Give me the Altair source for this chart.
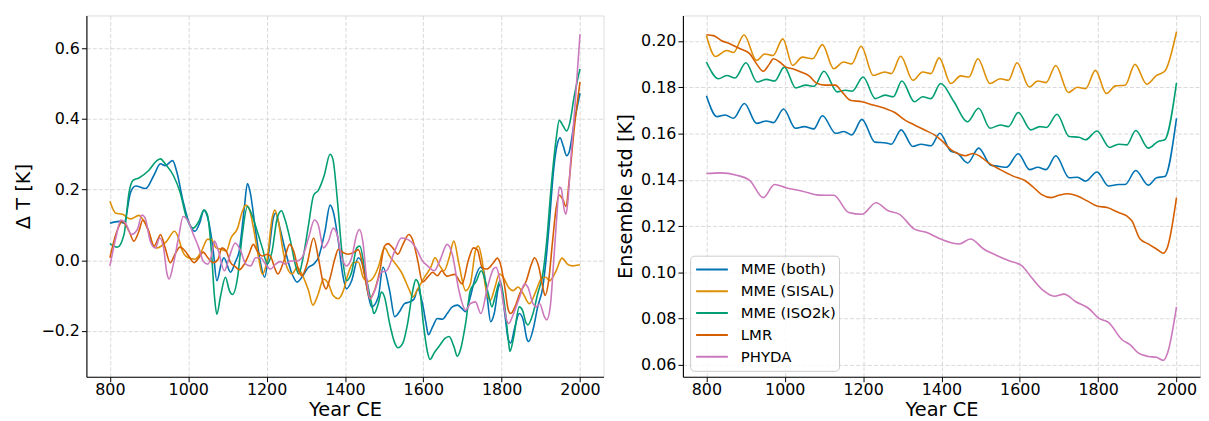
import altair as alt
import pandas as pd

SERIES = ["MME (both)", "MME (SISAL)", "MME (ISO2k)", "LMR", "PHYDA"]
COLORS = ["#0173b2", "#de8f05", "#029e73", "#d55e00", "#cc78bc"]
X_TICKS = [800, 1000, 1200, 1400, 1600, 1800, 2000]
DT_TICKS = [-0.2, 0.0, 0.2, 0.4, 0.6]
STD_TICKS = [0.06, 0.08, 0.10, 0.12, 0.14, 0.16, 0.18, 0.20]

# ---------- left panel: temperature anomaly (year, value) ----------
both_dT = [(800,0.105),(824,0.11),(836,0.105),(853,0.193),(866,0.21),(891,0.203),(912,0.24),(929,0.273),(941,0.268),(960,0.282),
           (971,0.249),(987,0.166),(1004,0.10),(1017,0.082),(1029,0.105),(1040,0.142),(1050,0.119),(1063,0.035),(1073,-0.058),(1084,-0.011),
           (1091,0.007),(1108,-0.034),(1120,-0.005),(1130,0.026),(1143,0.147),(1151,0.217),(1158,0.193),(1172,0.082),(1185,-0.011),(1195,-0.048),
           (1206,0.026),(1217,0.119),(1223,0.133),(1234,0.091),(1248,0.026),(1265,-0.039),(1278,-0.062),(1290,-0.048),(1307,-0.02),(1320,-0.011),
           (1332,0.007),(1349,0.082),(1362,0.156),(1370,0.138),(1383,0.054),(1394,-0.039),(1404,-0.081),(1417,-0.058),(1434,0.007),(1447,-0.02),
           (1459,-0.095),(1468,-0.132),(1485,-0.104),(1497,-0.02),(1514,-0.086),(1527,-0.16),(1539,-0.146),(1552,-0.123),(1565,-0.118),(1577,-0.109),
           (1586,-0.081),(1598,-0.123),(1607,-0.179),(1613,-0.211),(1624,-0.188),(1636,-0.165),(1649,-0.167),(1661,-0.151),(1674,-0.132),(1687,-0.127),
           (1699,-0.137),(1708,-0.146),(1720,-0.104),(1733,-0.048),(1746,-0.02),(1754,-0.03),(1763,-0.104),(1772,-0.174),(1781,-0.151),(1792,-0.076),
           (1797,-0.067),(1808,-0.151),(1817,-0.225),(1823,-0.234),(1834,-0.188),(1845,-0.151),(1855,-0.169),(1865,-0.225),(1869,-0.23),(1880,-0.197),
           (1892,-0.132),(1905,-0.076),(1913,-0.002),(1922,0.11),(1932,0.249),(1943,0.333),(1949,0.347),(1957,0.324),(1966,0.296),(1972,0.305),
           (1985,0.389),(2000,0.473)]

sisal_dT = [(800,0.167),(815,0.133),(832,0.13),(853,0.117),(874,0.127),(885,0.114),(899,0.082),(912,0.04),(920,0.035),(945,0.054),
            (965,0.082),(975,0.063),(985,0.026),(1000,0.007),(1017,0.003),(1034,0.026),(1049,0.059),(1059,0.059),(1071,0.035),(1084,0.031),
            (1097,0.026),(1109,0.063),(1126,0.091),(1138,0.138),(1147,0.156),(1155,0.147),(1168,0.082),(1181,-0.002),(1189,-0.039),(1202,0.007),
            (1214,0.119),(1221,0.142),(1230,0.11),(1242,0.026),(1252,-0.02),(1265,-0.039),(1278,-0.02),(1290,-0.039),(1307,-0.086),(1318,-0.127),
            (1332,-0.095),(1345,-0.053),(1358,-0.067),(1370,-0.1),(1383,-0.109),(1396,-0.086),(1408,-0.039),(1421,-0.007),(1434,-0.005),(1447,-0.05),
            (1459,-0.06),(1472,-0.05),(1485,-0.02),(1501,0.035),(1514,0.012),(1527,-0.007),(1544,-0.034),(1565,-0.086),(1573,-0.104),(1586,-0.081),
            (1603,-0.048),(1619,-0.02),(1630,0.007),(1642,-0.016),(1653,-0.03),(1666,0.007),(1678,0.054),(1691,-0.011),(1708,-0.086),(1720,-0.067),
            (1733,0.026),(1740,0.04),(1750,0.0),(1758,-0.07),(1771,-0.113),(1783,-0.076),(1794,-0.039),(1804,-0.048),(1817,-0.076),(1829,-0.086),
            (1842,-0.076),(1855,-0.095),(1871,-0.123),(1888,-0.086),(1901,-0.053),(1913,-0.048),(1922,-0.058),(1939,-0.03),(1954,0.006),(1968,-0.011),
            (1981,-0.016),(2000,-0.013)]

iso2k_dT = [(800,0.047),(819,0.037),(836,0.073),(849,0.193),(859,0.226),(874,0.233),(899,0.254),(920,0.282),(929,0.287),(941,0.273),
            (962,0.24),(979,0.193),(996,0.119),(1013,0.091),(1027,0.11),(1040,0.142),(1049,0.128),(1059,0.026),(1067,-0.104),(1073,-0.153),
            (1082,-0.104),(1095,-0.048),(1105,-0.086),(1113,-0.097),(1126,-0.048),(1138,0.073),(1151,0.152),(1159,0.138),(1176,0.082),(1189,0.035),
            (1202,-0.011),(1214,0.026),(1227,0.119),(1238,0.14),(1246,0.119),(1261,0.054),(1273,-0.011),(1282,-0.039),(1293,0.007),(1307,0.1),
            (1320,0.184),(1332,0.198),(1347,0.24),(1362,0.3),(1369,0.287),(1381,0.166),(1392,0.026),(1404,-0.058),(1417,-0.034),(1430,0.035),
            (1438,0.04),(1451,-0.03),(1468,-0.123),(1474,-0.151),(1485,-0.123),(1493,-0.09),(1501,-0.104),(1514,-0.179),(1527,-0.234),(1535,-0.248),
            (1548,-0.234),(1560,-0.179),(1573,-0.086),(1581,-0.055),(1590,-0.075),(1600,-0.179),(1611,-0.262),(1617,-0.281),(1628,-0.262),(1640,-0.244),
            (1657,-0.22),(1666,-0.216),(1678,-0.244),(1687,-0.272),(1695,-0.253),(1708,-0.179),(1720,-0.086),(1735,-0.06),(1748,-0.03),(1756,-0.05),
            (1767,-0.1),(1775,-0.132),(1783,-0.104),(1796,-0.058),(1808,-0.132),(1817,-0.225),(1821,-0.258),(1831,-0.216),(1845,-0.132),(1853,-0.141),
            (1863,-0.179),(1867,-0.183),(1880,-0.151),(1892,-0.095),(1905,-0.039),(1915,0.054),(1926,0.203),(1939,0.342),(1947,0.396),(1957,0.38),
            (1966,0.366),(1974,0.389),(1985,0.463),(2000,0.542)]

lmr_dT = [(800,0.007),(815,0.073),(832,0.11),(849,0.082),(861,0.054),(874,0.082),(884,0.114),(899,0.082),(912,0.04),(924,0.063),
          (929,0.073),(941,0.035),(954,-0.007),(966,0.017),(979,0.037),(992,0.026),(1004,0.007),(1015,-0.007),(1027,0.007),(1038,0.023),
          (1050,0.007),(1063,-0.007),(1076,0.003),(1086,0.035),(1097,0.026),(1108,-0.007),(1120,-0.018),(1130,-0.027),(1143,-0.011),(1155,0.017),
          (1166,0.045),(1176,0.026),(1189,0.012),(1202,0.017),(1212,0.007),(1220,-0.02),(1229,-0.039),(1244,-0.002),(1259,0.045),(1269,0.026),
          (1282,-0.03),(1290,-0.044),(1303,-0.011),(1320,0.063),(1332,0.007),(1345,-0.067),(1352,-0.081),(1360,-0.058),(1375,0.007),(1383,0.031),
          (1396,0.021),(1408,0.017),(1421,0.021),(1434,0.03),(1451,-0.048),(1464,-0.109),(1472,-0.095),(1489,-0.03),(1501,0.04),(1510,0.047),
          (1522,0.035),(1535,0.017),(1548,0.045),(1563,0.073),(1572,0.06),(1586,-0.002),(1598,-0.062),(1611,-0.048),(1624,-0.034),(1636,-0.044),
          (1647,-0.03),(1660,-0.045),(1680,-0.04),(1699,-0.067),(1715,0.0),(1728,0.035),(1738,0.03),(1750,-0.02),(1762,-0.025),(1779,-0.007),
          (1789,0.006),(1797,-0.011),(1808,-0.076),(1817,-0.141),(1823,-0.151),(1834,-0.132),(1846,-0.095),(1863,-0.058),(1876,-0.011),(1884,0.007),
          (1895,-0.02),(1905,-0.076),(1911,-0.1),(1920,-0.058),(1930,0.054),(1939,0.147),(1947,0.184),(1957,0.17),(1964,0.152),(1972,0.221),
          (1985,0.37),(2000,0.505)]

phyda_dT = [(800,-0.016),(815,0.063),(828,0.114),(840,0.105),(855,0.073),(870,0.087),(882,0.128),(890,0.119),(903,0.054),(916,0.035),
            (927,0.063),(937,0.035),(945,-0.034),(951,-0.053),(962,-0.011),(975,0.063),(987,0.124),(1000,0.11),(1013,0.073),(1027,0.035),
            (1038,-0.002),(1050,-0.011),(1060,0.017),(1067,0.054),(1077,0.026),(1092,-0.03),(1105,0.01),(1120,0.049),(1134,0.026),(1147,-0.011),
            (1159,-0.016),(1172,0.007),(1185,0.007),(1197,-0.011),(1210,-0.025),(1223,-0.011),(1235,-0.004),(1248,-0.011),(1261,-0.002),(1278,-0.002),
            (1290,0.007),(1307,0.063),(1322,0.114),(1332,0.1),(1345,0.035),(1358,0.054),(1370,0.091),(1380,0.073),(1392,0.007),(1404,-0.016),
            (1417,0.007),(1430,0.073),(1437,0.087),(1446,0.05),(1455,-0.05),(1464,-0.109),(1476,-0.086),(1493,-0.034),(1506,-0.03),(1527,0.026),
            (1544,0.063),(1560,0.059),(1581,0.035),(1598,-0.002),(1611,-0.016),(1628,-0.03),(1642,-0.002),(1661,0.045),(1674,0.017),(1691,-0.086),
            (1708,-0.141),(1720,-0.123),(1733,-0.118),(1747,-0.151),(1764,-0.076),(1779,-0.025),(1786,-0.02),(1794,-0.048),(1806,-0.132),(1814,-0.174),
            (1818,-0.179),(1829,-0.155),(1846,-0.104),(1859,-0.067),(1867,-0.076),(1880,-0.123),(1888,-0.132),(1897,-0.123),(1909,-0.16),(1915,-0.169),
            (1924,-0.132),(1934,0.017),(1941,0.128),(1947,0.207),(1952,0.203),(1959,0.147),(1964,0.13),(1969,0.166),(1976,0.277),(1987,0.435),
            (2000,0.64)]

# ---------- right panel: ensemble standard deviation (year, value) ----------
both_std = [(800,0.1763),(827,0.1673),(848,0.168),(869,0.1666),(897,0.173),(928,0.1644),(953,0.1654),(971,0.1647),(997,0.1706),(1027,0.1623),
            (1050,0.163),(1074,0.162),(1096,0.1677),(1130,0.1601),(1151,0.1609),(1171,0.1594),(1197,0.1661),(1230,0.1563),(1259,0.1559),(1272,0.1554),
            (1297,0.1616),(1327,0.1544),(1348,0.1554),(1373,0.1547),(1396,0.1601),(1424,0.1523),(1440,0.1516),(1467,0.1473),(1495,0.1537),(1526,0.1463),
            (1545,0.1459),(1566,0.1454),(1596,0.1513),(1625,0.1444),(1646,0.1454),(1667,0.1444),(1692,0.1504),(1726,0.1409),(1747,0.1411),(1768,0.1394),
            (1797,0.1434),(1827,0.1373),(1852,0.138),(1869,0.138),(1896,0.144),(1928,0.1377),(1949,0.1409),(1970,0.1414),(2000,0.1666)]

sisal_std = [(800,0.2023),(823,0.1933),(852,0.1959),(869,0.195),(896,0.2026),(928,0.1916),(949,0.1944),(970,0.1937),(995,0.2009),(1020,0.1894),
             (1045,0.193),(1071,0.1923),(1096,0.1984),(1125,0.188),(1150,0.1909),(1171,0.1901),(1195,0.1977),(1226,0.1851),(1255,0.1866),(1272,0.1859),
             (1296,0.1934),(1327,0.183),(1352,0.1866),(1373,0.1859),(1394,0.1927),(1424,0.1816),(1449,0.1849),(1470,0.1844),(1493,0.1923),(1524,0.1816),
             (1550,0.1837),(1571,0.183),(1593,0.1906),(1624,0.1801),(1646,0.1827),(1667,0.182),(1692,0.1894),(1724,0.1777),(1747,0.18),(1768,0.1794),
             (1793,0.1873),(1821,0.1773),(1844,0.1806),(1869,0.1809),(1894,0.1899),(1924,0.1813),(1949,0.1851),(1970,0.1869),(2000,0.204)]

iso2k_std = [(800,0.1909),(831,0.1837),(852,0.1851),(873,0.184),(901,0.1906),(929,0.1823),(953,0.1834),(974,0.1827),(999,0.1887),(1028,0.1797),
             (1054,0.1809),(1075,0.1804),(1100,0.1869),(1134,0.178),(1155,0.1787),(1172,0.1783),(1200,0.1844),(1231,0.1751),(1256,0.1766),(1277,0.1759),
             (1299,0.1827),(1331,0.1737),(1352,0.1759),(1373,0.1751),(1398,0.1816),(1432,0.1737),(1466,0.1651),(1495,0.1709),(1524,0.1623),(1550,0.1637),
             (1571,0.163),(1596,0.1691),(1628,0.1616),(1651,0.163),(1668,0.1626),(1695,0.1683),(1726,0.1587),(1751,0.1584),(1768,0.1573),(1797,0.1611),
             (1829,0.154),(1852,0.1554),(1873,0.1551),(1896,0.1613),(1928,0.1537),(1953,0.1566),(1970,0.1573),(2000,0.1819)]

lmr_std = [(800,0.2027),(818,0.2023),(839,0.2001),(861,0.1987),(886,0.1966),(911,0.1944),(928,0.1901),(945,0.1869),(961,0.1901),(971,0.1923),
           (987,0.1909),(1003,0.1887),(1020,0.188),(1041,0.1866),(1062,0.1849),(1083,0.1816),(1104,0.1809),(1129,0.1809),(1146,0.178),(1167,0.1744),
           (1197,0.1737),(1226,0.1723),(1255,0.1709),(1281,0.1691),(1306,0.1659),(1331,0.1637),(1356,0.1616),(1382,0.1594),(1403,0.1566),(1424,0.153),
           (1445,0.1511),(1461,0.1504),(1481,0.1514),(1499,0.1501),(1520,0.1473),(1550,0.1444),(1583,0.1416),(1613,0.1397),(1634,0.1369),(1655,0.1337),
           (1680,0.1323),(1701,0.1334),(1722,0.134),(1747,0.133),(1772,0.1309),(1797,0.1287),(1823,0.128),(1852,0.1259),(1873,0.1244),(1886,0.1223),
           (1907,0.1144),(1928,0.1123),(1949,0.1101),(1966,0.1083),(1977,0.1109),(2000,0.1323)]

phyda_std = [(800,0.1427),(835,0.143),(877,0.142),(911,0.1397),(945,0.1323),(974,0.138),(1003,0.1366),(1045,0.1351),(1087,0.1334),(1125,0.1333),
             (1163,0.1259),(1197,0.1251),(1233,0.1301),(1264,0.1266),(1293,0.1251),(1331,0.1187),(1361,0.1173),(1398,0.1144),(1445,0.1123),(1474,0.1144),
             (1508,0.1101),(1541,0.1073),(1571,0.1051),(1604,0.103),(1629,0.098),(1659,0.0923),(1688,0.0897),(1713,0.0906),(1743,0.0873),(1776,0.0844),
             (1802,0.0801),(1827,0.0783),(1861,0.0709),(1882,0.0687),(1903,0.0651),(1928,0.0637),(1949,0.0633),(1966,0.062),(1977,0.0651),(2000,0.0851)]


def to_frame(named):
    rows = []
    for name, pts in named:
        for yr, v in pts:
            rows.append({"series": name, "year": yr, "value": v})
    return pd.DataFrame(rows)


df_dT = to_frame(zip(SERIES, [both_dT, sisal_dT, iso2k_dT, lmr_dT, phyda_dT]))
df_std = to_frame(zip(SERIES, [both_std, sisal_std, iso2k_std, lmr_std, phyda_std]))

FONT = "DejaVu Sans"
PLOT_W, PLOT_H = 521, 364

common_axis = dict(
    grid=True, gridDash=[4, 2], gridColor="#cfcfcf", gridWidth=0.8,
    domainColor="black", domainWidth=1.1, tickColor="black", tickSize=5, tickWidth=1,
    labelFontSize=16, labelColor="black", titleFontSize=19.5, titleFontWeight="normal",
    titleColor="black", labelFont=FONT, titleFont=FONT, titleBaseline="middle",
)

x_enc = alt.X("year:Q",
              scale=alt.Scale(domain=[740, 2060], nice=False, zero=False),
              axis=alt.Axis(values=X_TICKS, format="d", title="Year CE", labelPadding=0,
                            titleY=33, titleX=PLOT_W / 2, **common_axis))

color_scale = alt.Scale(domain=SERIES, range=COLORS)

left = alt.Chart(df_dT).mark_line(strokeWidth=1.6, interpolate="monotone").encode(
    x=x_enc,
    y=alt.Y("value:Q",
            scale=alt.Scale(domain=[-0.330, 0.693], nice=False, zero=False),
            axis=alt.Axis(values=DT_TICKS, format=".1f", title="Δ T [K]", labelPadding=2,
                          titleX=-63.5, titleY=PLOT_H / 2, **common_axis)),
    color=alt.Color("series:N", scale=color_scale, legend=None),
).properties(width=PLOT_W, height=PLOT_H)

right = alt.Chart(df_std).mark_line(strokeWidth=1.6, interpolate="monotone").encode(
    x=x_enc,
    y=alt.Y("value:Q",
            scale=alt.Scale(domain=[0.0549, 0.211], nice=False, zero=False),
            axis=alt.Axis(values=STD_TICKS, format=".2f", title="Ensemble std [K]", labelPadding=2,
                          titleX=-57.5, titleY=PLOT_H / 2, **common_axis)),
    color=alt.Color("series:N", scale=color_scale,
                    legend=alt.Legend(orient="none", legendX=7.3, legendY=242, title=None,
                                      symbolType="stroke", symbolStrokeWidth=2, symbolSize=1024,
                                      symbolOffset=2, clipHeight=21.6, rowPadding=0,
                                      labelFontSize=15, labelFont=FONT, labelColor="black",
                                      labelOffset=12, padding=3,
                                      fillColor="rgba(255,255,255,0.8)", strokeColor="#cccccc",
                                      cornerRadius=4)),
).properties(width=PLOT_W, height=PLOT_H)

chart = alt.hconcat(left, right, spacing=11).resolve_scale(color="independent").properties(
    padding={"left": 5, "top": 5, "right": 0, "bottom": 0}
).configure_view(stroke=None).configure(font=FONT)

chart.save("out.html", embed_options={"renderer": "svg", "actions": False})
